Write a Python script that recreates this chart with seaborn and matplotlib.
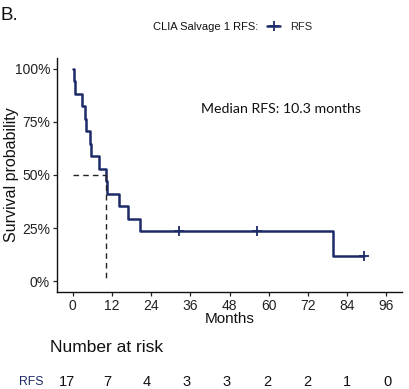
import numpy as np
import pandas as pd
import matplotlib
matplotlib.use("Agg")
import matplotlib.pyplot as plt
from matplotlib.lines import Line2D
import seaborn as sns

# ---- data ----
event_times = [0.3, 0.6, 3.0, 3.9, 4.1, 5.2, 5.5, 8.0, 10.3, 10.5, 14.3, 16.8, 20.5, 79.8]
censor_times = [32.4, 56.3, 89.3]
x_ticks = [0, 12, 24, 36, 48, 60, 72, 84, 96]
y_ticks = [0, 0.25, 0.5, 0.75, 1.0]
y_tick_labels = ["0%", "25%", "50%", "75%", "100%"]
risk_counts = [17, 7, 4, 3, 3, 2, 2, 1, 0]
median_value = 10.3

NAVY = "#1c2a68"
W, H = 409, 389

# ---- Kaplan-Meier estimate from the times ----
times = np.array(event_times + censor_times)
status = np.array([1] * len(event_times) + [0] * len(censor_times))
order = np.argsort(times, kind="stable")
times, status = times[order], status[order]
surv = 1.0
xs, ys = [0.0], [1.0]
cens_x, cens_y = [], []
n = len(times)
for i, (t, s) in enumerate(zip(times, status)):
    at_risk = n - i
    if s == 1:
        surv *= (at_risk - 1) / at_risk
        xs.append(t); ys.append(surv)
    else:
        cens_x.append(t); cens_y.append(surv)
xs.append(max(times)); ys.append(surv)
km = pd.DataFrame({"Months": xs, "Survival": ys})
cens = pd.DataFrame({"Months": cens_x, "Survival": cens_y})

sns.set_theme(style="ticks")
plt.rcParams["font.family"] = ["Liberation Sans", "DejaVu Sans"]

fig = plt.figure(figsize=(W / 100, H / 100), dpi=100)
fig.patch.set_facecolor("white")

def fx(px):
    return px / W

def fy(py):
    return 1 - py / H

ax = fig.add_axes([fx(57), fy(292), fx(402) - fx(57), fy(58) - fy(292)])
ax.set_facecolor("white")

sns.lineplot(data=km, x="Months", y="Survival", drawstyle="steps-post",
             color=NAVY, linewidth=1.8, ax=ax, legend=False)
sns.scatterplot(data=cens, x="Months", y="Survival", marker="+", s=55,
                color=NAVY, linewidth=1.3, ax=ax, legend=False, zorder=5)

# median lines
ax.plot([0, median_value], [0.5, 0.5], ls=(0, (4, 3)), color="#222222", lw=1.0)
ax.plot([median_value, median_value], [0.5, 0], ls=(0, (4, 3)), color="#222222", lw=1.0)

ax.set_xlim(-4.8, 100.8)
ax.set_ylim(-0.05, 1.05)
ax.set_xticks(x_ticks)
ax.set_xticklabels([str(v) for v in x_ticks], fontsize=10, color="#222222")
ax.set_yticks(y_ticks)
ax.set_yticklabels(y_tick_labels, fontsize=10, color="#222222")
ax.tick_params(axis="both", direction="out", length=3, width=0.9, color="#222222",
               top=False, right=False, pad=2)
ax.grid(False)
for side in ["top", "right"]:
    ax.spines[side].set_visible(False)
for side in ["left", "bottom"]:
    ax.spines[side].set_color("#111111")
    ax.spines[side].set_linewidth(1.0)
ax.set_xlabel("")
ax.set_ylabel("")

fig.text(fx(12), fy(175), "Survival probability", rotation=90, ha="center", va="center",
         fontsize=11.5, color="#111111")
fig.text(fx(230), fy(319), "Months", ha="center", va="center", fontsize=11, color="#111111")

ax.text(0.649, 0.782, "Median RFS: 10.3 months", transform=ax.transAxes, ha="center",
        va="center", fontsize=10.2, family=["Lato", "DejaVu Sans"], color="#111111")

# panel letter
fig.text(fx(0), fy(15), "B.", ha="left", va="center", fontsize=13.5, color="#111111")

# legend
fig.text(fx(258), fy(27), "CLIA Salvage 1 RFS:", ha="right", va="center", fontsize=8,
         color="#111111")
handle = Line2D([0], [0], color=NAVY, lw=1.8, marker="+", markersize=7, markeredgewidth=1.3)
fig.legend([handle], ["RFS"], loc="center left", bbox_to_anchor=(fx(267), fy(27)),
           frameon=False, fontsize=8, handlelength=1.2, handletextpad=0.9,
           borderaxespad=0, borderpad=0)

# risk table
fig.text(fx(50), fy(347), "Number at risk", ha="left", va="center", fontsize=12.5,
         color="#111111")
rax = fig.add_axes([fx(51), 0.0, fx(403) - fx(51), fy(370)])
rax.set_xlim(-4.8, 100.8)
rax.set_ylim(0, 1)
rax.axis("off")
ry = (389 - 382) / (389 - 370)
for xv, c in zip(x_ticks, risk_counts):
    rax.text(xv, ry, str(c), ha="center", va="center", fontsize=10.5, color="#111111")
fig.text(fx(31), fy(382), "RFS", ha="center", va="center", fontsize=8.8, color=NAVY)

fig.savefig("out.png", dpi=100, facecolor="white")
